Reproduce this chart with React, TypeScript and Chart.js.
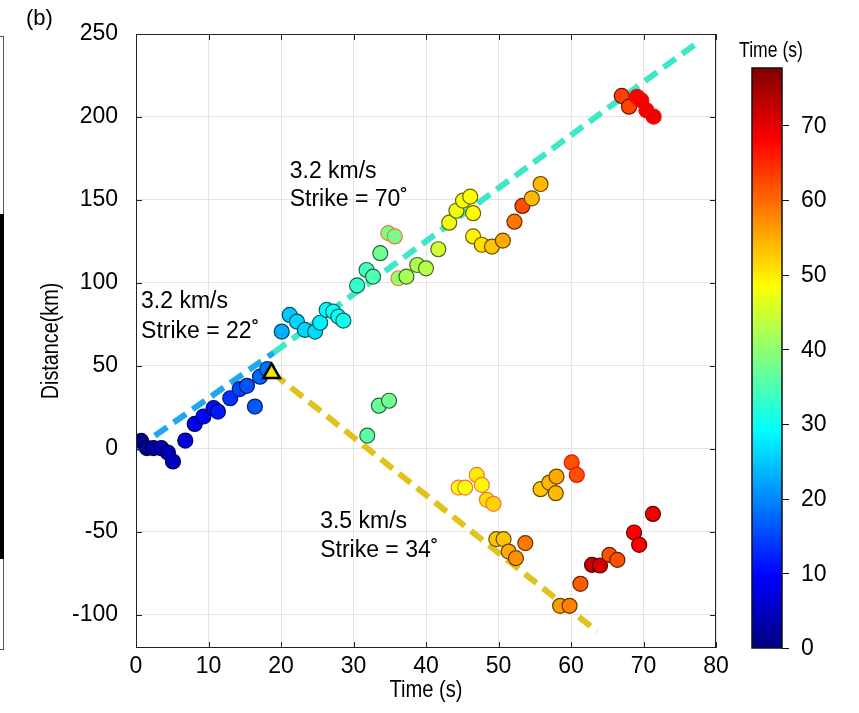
import React, { useEffect, useRef } from 'react';
import { Chart, registerables } from 'chart.js';

Chart.register(...registerables);

const FONT = '"Liberation Sans", Arial, Helvetica, sans-serif';
const CB_MAX = 77.7;

// ---- event data ----
const times = [
  0.7, 1.5, 2.4, 3.5, 4.4, 5.1, 6.8, 8.1, 9.3, 10.7, 11.3, 13.0, 14.3, 15.3, 16.4, 17.1, 18.1,
  20.1, 21.2, 22.2, 23.3, 24.7, 25.4, 26.3, 27.2, 27.9, 28.6,
  30.5, 31.8, 32.7, 33.7, 34.8, 35.7, 36.2, 37.3, 38.8, 40.0, 41.7,
  43.2, 44.2, 45.1, 46.1, 46.5, 46.5, 47.7, 49.1, 50.6, 52.2, 53.3, 54.6, 55.8,
  67.0, 68.0, 69.1, 69.7, 70.4, 71.4,
  31.9, 33.5, 34.9,
  44.5, 45.4, 47.0, 47.7, 48.4, 49.3, 49.7, 50.7, 51.4, 52.4, 53.7,
  55.8, 57.0, 58.0, 57.9, 60.1, 60.8,
  58.5, 59.8, 61.3, 62.9, 64.0, 65.3, 66.4, 68.7, 69.4, 71.3,
];
const distances = [
  4.8, 0.5, 0.5, 0.4, -2.2, -7.6, 5.0, 15.0, 19.5, 24.5, 22.5, 30.5, 36.0, 38.0, 25.5, 43.5, 48.0,
  70.7, 80.7, 76.7, 71.7, 70.7, 76.0, 83.7, 82.7, 79.7, 77.3,
  98.5, 107.8, 103.8, 117.9, 130.0, 128.0, 102.8, 103.8, 110.8, 108.8, 120.3,
  136.3, 143.5, 149.6, 152.0, 142.0, 128.0, 123.0, 121.9, 125.5, 136.9, 146.4, 151.0, 159.6,
  212.7, 206.2, 212.2, 210.0, 204.0, 200.2,
  8.0, 26.0, 29.0,
  -23.3, -23.3, -15.7, -21.7, -30.7, -33.1, -54.4, -54.4, -61.9, -65.9, -56.8,
  -24.3, -20.3, -16.7, -26.7, -8.2, -15.7,
  -94.6, -94.6, -81.3, -69.9, -70.3, -63.9, -66.9, -50.4, -57.8, -39.2,
];
// colour value (s) of each event on the colour bar
const colorTimes = [
  1, 2, 3, 4, 4.5, 5, 7, 8.5, 10, 11, 11.5, 13.5, 15, 16, 16.5, 17.5, 18.5,
  23, 25, 26, 26, 26.5, 28, 29, 29.5, 30, 30.5,
  33, 34.5, 35, 37.5, 38, 38, 40, 42, 42, 43, 45,
  47, 47.5, 48, 48.5, 48.5, 49.5, 51, 53, 55, 59, 62, 54, 54,
  63, 63, 68, 68.5, 68.5, 69,
  36, 37, 37.5,
  48, 48, 50, 49, 51, 52, 53, 53, 55, 57, 59,
  53, 54, 55, 54, 62, 62,
  56, 58, 61, 72, 71, 62, 62, 68, 68, 69,
];
// edge colour kind: d = darker fill, o = orange rim, r = red rim
const edgeKinds = [
  'd', 'd', 'd', 'd', 'd', 'd', 'd', 'd', 'd', 'd', 'd', 'd', 'd', 'd', 'd', 'd', 'd',
  'd', 'd', 'd', 'd', 'd', 'd', 'd', 'd', 'd', 'd',
  'd', 'd', 'd', 'd', 'o', 'o', 'o', 'd', 'd', 'd', 'd',
  'd', 'd', 'd', 'd', 'd', 'd', 'd', 'd', 'd', 'd', 'd', 'd', 'd',
  'd', 'd', 'r', 'r', 'r', 'r',
  'd', 'd', 'd',
  'o', 'o', 'o', 'o', 'o', 'o', 'd', 'd', 'd', 'd', 'd',
  'd', 'd', 'd', 'd', 'r', 'r',
  'd', 'd', 'd', 'd', 'd', 'd', 'd', 'd', 'd', 'd',
];

// hypocentre (triangle)
const hypoT = [18.7];
const hypoD = [45.6];

// rupture-front lines
const blueLineT = [0, 19];
const blueLineD = [0, 58];
const cyanLineT = [19, 77.5];
const cyanLineD = [58, 245];
const yellowLineT = [18.9, 63.6];
const yellowLineD = [45.6, -110];

// ticks
const xTicks = [0, 10, 20, 30, 40, 50, 60, 70, 80];
const yTicks = [-100, -50, 0, 50, 100, 150, 200, 250];
const cbTicks = [0, 10, 20, 30, 40, 50, 60, 70];

// annotations (text, anchored in data units)
const labelTexts = ['3.2 km/s', 'Strike = 70˚', '3.2 km/s', 'Strike = 22˚', '3.5 km/s', 'Strike = 34˚'];
const labelT = [21.2, 21.2, 0.7, 0.7, 25.4, 25.4];
const labelD = [167, 150, 88.6, 70.5, -44, -61.4];

function jetRGB(v: number): [number, number, number] {
  const x = Math.max(0, Math.min(1, v / CB_MAX));
  const f = (c: number) => Math.max(0, Math.min(1, 1.5 - Math.abs(4 * x - c)));
  return [f(3) * 255, f(2) * 255, f(1) * 255];
}
const rgb = (c: number[], k = 1) =>
  `rgb(${Math.round(c[0] * k)},${Math.round(c[1] * k)},${Math.round(c[2] * k)})`;

const pts = (ts: number[], ds: number[]) => ts.map((t, i) => ({ x: t, y: ds[i] }));

function narrowText(ctx: any, text: string, x: number, y: number, size: number, squeeze: number, rot = 0) {
  ctx.save();
  ctx.translate(x, y);
  if (rot) ctx.rotate(rot);
  ctx.scale(squeeze, 1);
  ctx.font = `${size}px ${FONT}`;
  ctx.textAlign = 'center';
  ctx.textBaseline = 'middle';
  ctx.fillStyle = '#000';
  ctx.fillText(text, 0, 0);
  ctx.restore();
}

export default function App() {
  const ref = useRef<HTMLCanvasElement>(null);

  useEffect(() => {
    if (!ref.current) return;
    Chart.defaults.font.family = FONT;

    const fills = colorTimes.map((v) => rgb(jetRGB(v)));
    const edges = colorTimes.map((v, i) => {
      const k = edgeKinds[i];
      if (k === 'o') return 'rgb(240,120,60)';
      if (k === 'r') return 'rgb(225,20,10)';
      return rgb(jetRGB(v), 0.4);
    });

    const decor = {
      id: 'decor',
      afterDatasetsDraw(chart: any) {
        const { ctx, chartArea: a, scales } = chart;
        const xs = scales.x;
        const ys = scales.y;
        ctx.save();
        // frame
        ctx.strokeStyle = '#222';
        ctx.lineWidth = 1;
        ctx.strokeRect(a.left + 0.5, a.top + 0.5, a.right - a.left - 1, a.bottom - a.top - 1);
        // inward ticks
        ctx.beginPath();
        xTicks.forEach((v) => {
          const px = Math.round(xs.getPixelForValue(v)) + 0.5;
          ctx.moveTo(px, a.bottom);
          ctx.lineTo(px, a.bottom - 6);
          ctx.moveTo(px, a.top);
          ctx.lineTo(px, a.top + 6);
        });
        yTicks.forEach((v) => {
          const py = Math.round(ys.getPixelForValue(v)) + 0.5;
          ctx.moveTo(a.left, py);
          ctx.lineTo(a.left + 6, py);
          ctx.moveTo(a.right, py);
          ctx.lineTo(a.right - 6, py);
        });
        ctx.stroke();

        // annotations
        ctx.fillStyle = '#000';
        ctx.font = `23px ${FONT}`;
        ctx.textAlign = 'left';
        ctx.textBaseline = 'middle';
        labelTexts.forEach((txt, i) => {
          ctx.fillText(txt, xs.getPixelForValue(labelT[i]), ys.getPixelForValue(labelD[i]));
        });

        // panel tag
        ctx.font = `22px ${FONT}`;
        ctx.fillText('(b)', 26, 19);

        // axis titles
        narrowText(ctx, 'Distance(km)', 52, (a.top + a.bottom) / 2, 23, 0.86, -Math.PI / 2);
        narrowText(ctx, 'Time (s)', (a.left + a.right) / 2, 690, 24, 0.84);

        // colour bar
        const bx = a.right + 36;
        const bw = 30;
        const bBottom = a.bottom;
        const bTop = a.top + 34;
        const vToY = (v: number) => bBottom - (v / CB_MAX) * (bBottom - bTop);
        const g = ctx.createLinearGradient(0, bBottom, 0, bTop);
        for (let i = 0; i <= 40; i++) {
          g.addColorStop(i / 40, rgb(jetRGB((i / 40) * CB_MAX)));
        }
        ctx.fillStyle = g;
        ctx.fillRect(bx, bTop, bw, bBottom - bTop);
        ctx.strokeStyle = '#111';
        ctx.lineWidth = 1.5;
        ctx.strokeRect(bx, bTop, bw, bBottom - bTop);
        ctx.lineWidth = 1;
        ctx.beginPath();
        cbTicks.forEach((v) => {
          const py = Math.round(vToY(v)) + 0.5;
          ctx.moveTo(bx + bw, py);
          ctx.lineTo(bx + bw + 7, py);
        });
        ctx.stroke();
        ctx.fillStyle = '#000';
        ctx.font = `23px ${FONT}`;
        ctx.textAlign = 'left';
        ctx.textBaseline = 'middle';
        cbTicks.forEach((v) => {
          ctx.fillText(String(v), bx + bw + 19, vToY(v) + 1);
        });
        narrowText(ctx, 'Time (s)', bx + bw / 2 + 4, a.top + 17, 22, 0.8);
        ctx.restore();
      },
    };

    const lineDs = (ts: number[], ds: number[], color: string) => ({
      type: 'line' as const,
      data: pts(ts, ds),
      borderColor: color,
      borderWidth: 6,
      borderDash: [15, 8],
      borderCapStyle: 'butt' as const,
      pointRadius: 0,
      fill: false,
      order: 5,
    });

    const chart = new Chart(ref.current, {
      type: 'scatter',
      data: {
        datasets: [
          lineDs(blueLineT, blueLineD, '#1fa8ee') as any,
          lineDs(cyanLineT, cyanLineD, '#3ce8c6') as any,
          lineDs(yellowLineT, yellowLineD, '#e2c21c') as any,
          {
            type: 'scatter',
            data: pts(times, distances),
            pointRadius: 7.5,
            pointBackgroundColor: fills,
            pointBorderColor: edges,
            pointBorderWidth: 1.2,
            order: 2,
          },
          {
            type: 'scatter',
            data: pts(hypoT, hypoD),
            pointStyle: 'triangle',
            pointRadius: 9.5,
            pointBackgroundColor: '#f4ea00',
            pointBorderColor: '#000',
            pointBorderWidth: 2.5,
            order: 1,
          },
        ],
      },
      options: {
        responsive: false,
        animation: false,
        layout: { padding: { left: 0, right: 143, top: 34, bottom: 0 } },
        plugins: { legend: { display: false }, tooltip: { enabled: false } },
        scales: {
          x: {
            type: 'linear',
            min: 0,
            max: 80,
            afterBuildTicks: (s: any) => {
              s.ticks = xTicks.map((v) => ({ value: v }));
            },
            afterFit: (s: any) => {
              s.height = 65;
            },
            ticks: { color: '#000', font: { size: 23 }, padding: 5, maxRotation: 0 },
            grid: { color: '#e4e4e4', drawTicks: false },
            border: { display: false },
            title: { display: false },
          },
          y: {
            type: 'linear',
            min: -120,
            max: 250,
            afterBuildTicks: (s: any) => {
              s.ticks = yTicks.map((v) => ({ value: v }));
            },
            afterFit: (s: any) => {
              s.width = 136;
            },
            ticks: { color: '#000', font: { size: 23 }, padding: 18 },
            grid: { color: '#e4e4e4', drawTicks: false },
            border: { display: false },
            title: { display: false },
          },
        },
      },
      plugins: [decor],
    } as any);

    return () => chart.destroy();
  }, []);

  return (
    <div style={{ position: 'absolute', left: 0, top: 0, width: 859, height: 713, background: '#fff' }}>
      <canvas ref={ref} width={859} height={713} style={{ display: 'block' }} />
      <div style={{ position: 'absolute', left: 0, top: 36, width: 3, height: 1, background: '#555' }} />
      <div style={{ position: 'absolute', left: 3, top: 36, width: 1, height: 614, background: '#555' }} />
      <div style={{ position: 'absolute', left: 0, top: 649, width: 3, height: 1, background: '#555' }} />
      <div style={{ position: 'absolute', left: 0, top: 214, width: 4, height: 345, background: '#000' }} />
    </div>
  );
}
